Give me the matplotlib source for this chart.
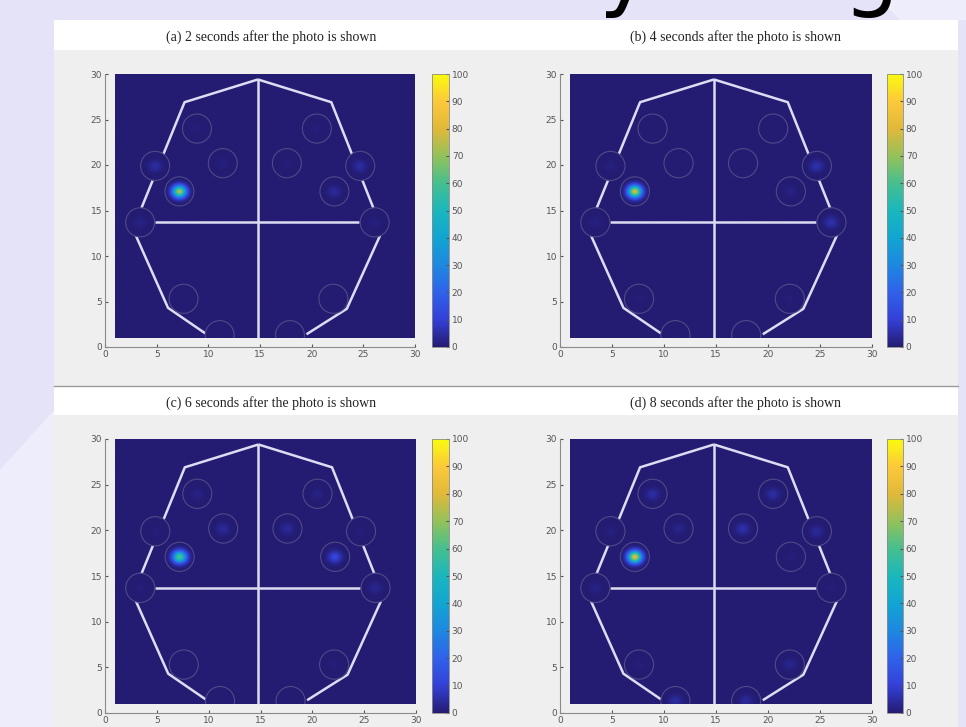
import matplotlib

matplotlib.use("Agg")

import matplotlib.pyplot as plt
import numpy as np
from matplotlib.colors import LinearSegmentedColormap
from matplotlib.patches import Ellipse, Polygon, Rectangle
from matplotlib.path import Path

# electrode sites on the 30 x 30 scalp grid
site_x = [8.9, 20.5, 4.85, 11.4, 17.6, 24.7, 7.2, 22.2, 3.4, 26.1, 7.6, 22.1, 11.1, 17.9]
site_y = [24.0, 24.0, 19.9, 20.2, 20.2, 19.9, 17.1, 17.1, 13.7, 13.7, 5.3, 5.3, 1.3, 1.3]

# activity read at each site, one list per panel
activity_a = [1, 1, 5, 1.5, 1, 5, 74, 4, 2, 1.5, 0.5, 0.5, 0.5, 0.5]
activity_b = [0.5, 0.5, 1.5, 0.5, 0.5, 6, 80, 2, 1.5, 6, 1, 1, 0.5, 0.5]
activity_c = [2, 2, 1, 4, 4, 1, 62, 12, 1, 3, 0.5, 1, 0.5, 0.5]
activity_d = [5, 5, 1.5, 2.5, 6, 4, 82, 1, 2, 1, 1, 3, 5, 4]

panel_titles = [
    "(a) 2 seconds after the photo is shown",
    "(b) 4 seconds after the photo is shown",
    "(c) 6 seconds after the photo is shown",
    "(d) 8 seconds after the photo is shown",
]

# head outline
outline_left_x = [9.7, 6.1, 3.0, 3.5, 7.7, 14.8]
outline_left_y = [1.5, 4.3, 12.2, 15.2, 26.9, 29.4]
outline_right_x = [14.8, 21.9, 26.0, 26.6, 23.4, 19.5]
outline_right_y = [29.4, 26.9, 15.2, 12.2, 4.2, 1.4]
midline_x = [14.8, 14.8]
midline_y = [1.0, 29.4]
crossline_x = [4.8, 24.6]
crossline_y = [13.7, 13.7]

axis_ticks = [0, 5, 10, 15, 20, 25, 30]
cbar_ticks = list(range(0, 101, 10))

# parula-like map, one colour per step of 10
parula = LinearSegmentedColormap.from_list(
    "parula",
    ["#241c72", "#3440d8", "#2f62ea", "#1e88e0", "#11a5d2", "#1ab7bd",
     "#45bf8f", "#94c15a", "#e0b93a", "#fcc83a", "#f9fb0e"],
)

LINE = "#dcdcf2"
RING = "#4f4a88"
TICK = "#555555"


def draw_panel(fig, ax, cax, values):
    gx = np.linspace(1, 30, 291)
    gy = np.linspace(1, 30, 291)
    X, Y = np.meshgrid(gx, gy)
    field = np.zeros_like(X)
    for x0, y0, v in zip(site_x, site_y, values):
        field += v * np.exp(-((X - x0) ** 2 + (Y - y0) ** 2) / (2 * 0.45 ** 2))

    kw = dict(origin="lower", extent=(1, 30, 1, 30), cmap=parula, vmin=0,
              vmax=100, aspect="auto", interpolation="bilinear")
    im = ax.imshow(field, zorder=1, **kw)

    for xs, ys in [(outline_left_x, outline_left_y), (outline_right_x, outline_right_y),
                   (midline_x, midline_y), (crossline_x, crossline_y)]:
        ax.plot(xs, ys, color=LINE, lw=1.8, zorder=2, solid_capstyle="butt")

    # the sites sit on top of the outline, so redraw the field inside them
    shapes = [Ellipse((x0, y0), 2.8, 3.2) for x0, y0 in zip(site_x, site_y)]
    clip = Path.make_compound_path(
        *[e.get_path().transformed(e.get_patch_transform()) for e in shapes]
    )
    top = ax.imshow(field, zorder=3, **kw)
    top.set_clip_path(clip, ax.transData)

    frame = Rectangle((1, 1), 29, 29, transform=ax.transData)
    for x0, y0 in zip(site_x, site_y):
        ring = Ellipse((x0, y0), 2.8, 3.2, fill=False, edgecolor=RING, lw=0.8, zorder=4)
        ax.add_patch(ring)
        ring.set_clip_path(frame)

    ax.set_xlim(0, 30)
    ax.set_ylim(0, 30)
    ax.set_xticks(axis_ticks)
    ax.set_yticks(axis_ticks)
    ax.set_facecolor("none")
    for side in ("top", "right"):
        ax.spines[side].set_visible(False)
    for side in ("left", "bottom"):
        ax.spines[side].set_color("#8a8a8a")
        ax.spines[side].set_linewidth(0.8)
    ax.tick_params(direction="in", length=2, labelsize=6.5, colors=TICK, pad=2)

    cb = fig.colorbar(im, cax=cax, ticks=cbar_ticks)
    cb.outline.set_edgecolor("#8a8a8a")
    cb.outline.set_linewidth(0.6)
    cax.tick_params(direction="in", length=2, labelsize=6.5, colors=TICK, pad=2)


W, H = 966, 727
fig = plt.figure(figsize=(W / 100, H / 100), dpi=100, facecolor="#e4e3f8")

# slide background and the figure's panel area, drawn in pixel units
bg = fig.add_axes([0, 0, 1, 1], zorder=-5)
bg.set_xlim(0, W)
bg.set_ylim(H, 0)
bg.axis("off")
bg.add_patch(Polygon([(0, 470), (54, 410), (54, H), (0, H)], color="#eeedfc", lw=0))
bg.add_patch(Polygon([(880, 0), (966, 0), (966, 20), (900, 20)], color="#eeedfb", lw=0))
bg.add_patch(Rectangle((54, 20), 904, H - 20, color="#efefef", lw=0))
bg.add_patch(Rectangle((54, 20), 904, 30, color="white", lw=0))
bg.add_patch(Rectangle((54, 387), 904, 28, color="white", lw=0))
bg.plot([54, 958], [386, 386], color="#9a9a9a", lw=1)
# tails of the slide heading, which runs above the top edge
bg.text(598, -1, "y", fontsize=64, color="black", va="baseline")
bg.text(842, -1, "g", fontsize=64, color="black", va="baseline")

title_pos = [(271, 37), (736, 37), (271, 403), (736, 403)]
for (tx, ty), title in zip(title_pos, panel_titles):
    bg.text(tx, ty, title, fontsize=10, family="Liberation Serif", color="#222222",
            ha="center", va="center")

# axes boxes in pixels: left, top, right, bottom
axes_px = [(105, 74, 415, 347), (560, 74, 872, 347),
           (105, 439, 416, 713), (560, 439, 872, 713)]
cbar_px = [(432, 449), (887, 903), (432, 449), (887, 903)]
panels = [activity_a, activity_b, activity_c, activity_d]

for (l, t, r, b), (cl, cr), values in zip(axes_px, cbar_px, panels):
    ax = fig.add_axes([l / W, 1 - b / H, (r - l) / W, (b - t) / H])
    cax = fig.add_axes([cl / W, 1 - b / H, (cr - cl) / W, (b - t) / H])
    draw_panel(fig, ax, cax, values)

fig.savefig("out.png", dpi=100)
